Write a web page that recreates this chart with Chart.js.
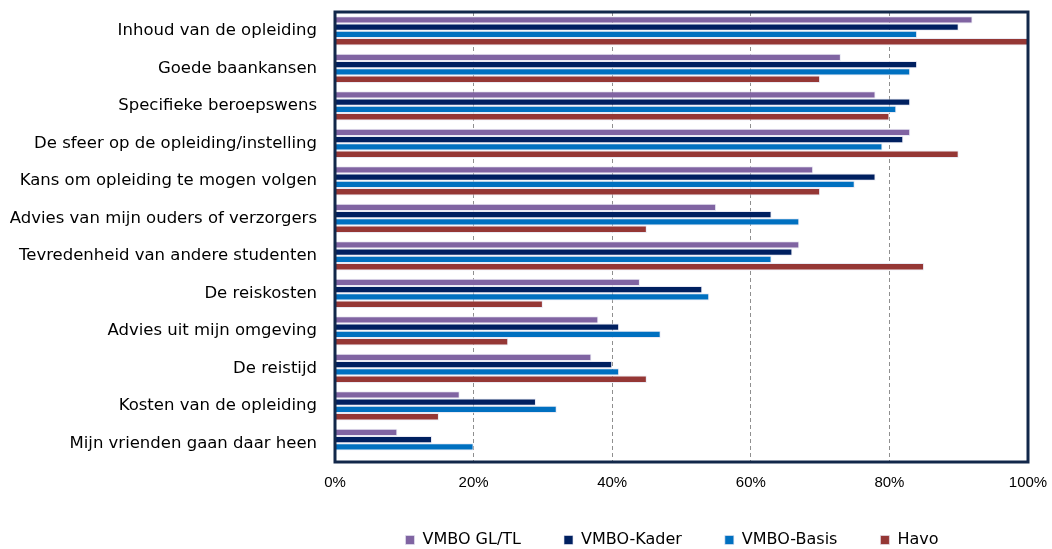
<!DOCTYPE html>
<html>
<head>
<meta charset="utf-8">
<script src="https://cdn.jsdelivr.net/npm/chart.js@4.4.1/dist/chart.umd.min.js"></script>
<style>
html,body{margin:0;padding:0;background:#fff;}
#wrap{width:1052px;height:549px;position:relative;}
</style>
</head>
<body>
<div id="wrap"><canvas id="c" width="1052" height="549"></canvas></div>
<script>
const categories = [
  "Inhoud van de opleiding",
  "Goede baankansen",
  "Specifieke beroepswens",
  "De sfeer op de opleiding/instelling",
  "Kans om opleiding te mogen volgen",
  "Advies van mijn ouders of verzorgers",
  "Tevredenheid van andere studenten",
  "De reiskosten",
  "Advies uit mijn omgeving",
  "De reistijd",
  "Kosten van de opleiding",
  "Mijn vrienden gaan daar heen"
];
const vmboGLTL = [92, 73, 78, 83, 69, 55, 67, 44, 38, 37, 18, 9];
const vmboKader = [90, 84, 83, 82, 78, 63, 66, 53, 41, 40, 29, 14];
const vmboBasis = [84, 83, 81, 79, 75, 67, 63, 54, 47, 41, 32, 20];
const havo = [100, 70, 80, 90, 70, 45, 85, 30, 25, 45, 15, 0];
const xTicks = [0, 20, 40, 60, 80, 100];

const LABEL_FONT = "'DejaVu Sans', sans-serif";
const TICK_FONT = "'Liberation Sans', Arial, sans-serif";

const borderPlugin = {
  id: 'plotBorder',
  afterDatasetsDraw(chart) {
    const a = chart.chartArea, ctx = chart.ctx;
    ctx.save();
    ctx.strokeStyle = '#12284A';
    ctx.lineWidth = 3;
    ctx.strokeRect(a.left, a.top, a.right - a.left, a.bottom - a.top);
    ctx.restore();
  }
};

const legendPlace = {
  id: 'legendPlace',
  afterLayout(chart) {
    const lg = chart.legend;
    if (!lg) return;
    const shift = 672 - (lg.left + lg.right) / 2;
    lg.left += shift;
    lg.right += shift;
    const pad = lg.options.labels.padding;
    lg.top = 540 - pad - 8;
    lg.bottom = 560;
  }
};

function ds(label, data, color) {
  return {
    label, data,
    backgroundColor: color,
    borderColor: 'rgba(230,230,242,0.85)',
    borderWidth: {top: 1, bottom: 1, right: 1, left: 0},
    borderSkipped: 'left',
    categoryPercentage: 0.78,
    barPercentage: 1.0
  };
}

new Chart(document.getElementById('c'), {
  type: 'bar',
  data: {
    labels: categories,
    datasets: [
      ds('VMBO GL/TL', vmboGLTL, '#8064A2'),
      ds('VMBO-Kader', vmboKader, '#002060'),
      ds('VMBO-Basis', vmboBasis, '#0070C0'),
      ds('Havo', havo, '#953735')
    ]
  },
  options: {
    indexAxis: 'y',
    responsive: false,
    animation: false,
    events: [],
    layout: { padding: { left: 0, right: 0, top: 12, bottom: 0 } },
    plugins: {
      legend: {
        position: 'bottom',
        maxHeight: 30,
        labels: {
          font: { family: LABEL_FONT, size: 16 },
          color: '#000',
          boxWidth: 9, boxHeight: 9,
          padding: 43
        }
      },
      tooltip: { enabled: false }
    },
    scales: {
      x: {
        min: 0, max: 100,
        afterBuildTicks(axis) { axis.ticks = xTicks.map(v => ({ value: v })); },
        afterFit(axis) {
          axis.height = 519 - 462;
          axis.paddingRight = 24;
          axis.paddingLeft = 0;
        },
        ticks: {
          font: { family: TICK_FONT, size: 15 },
          color: '#000',
          padding: 12,
          callback: v => v + '%'
        },
        grid: {
          color: ctx => (ctx.tick && (ctx.tick.value === 0 || ctx.tick.value === 100)) ? 'rgba(0,0,0,0)' : '#8f8f8f',
          lineWidth: 1,
          drawTicks: false
        },
        border: { display: false, dash: [4, 3] }
      },
      y: {
        afterFit(axis) {
          axis.width = 335;
          axis.paddingTop = 0;
          axis.paddingBottom = 0;
        },
        ticks: {
          font: { family: LABEL_FONT, size: 16.5 },
          color: '#000',
          padding: 18
        },
        grid: { display: false, drawTicks: false },
        border: { display: false }
      }
    }
  },
  plugins: [borderPlugin, legendPlace]
});
</script>
</body>
</html>
